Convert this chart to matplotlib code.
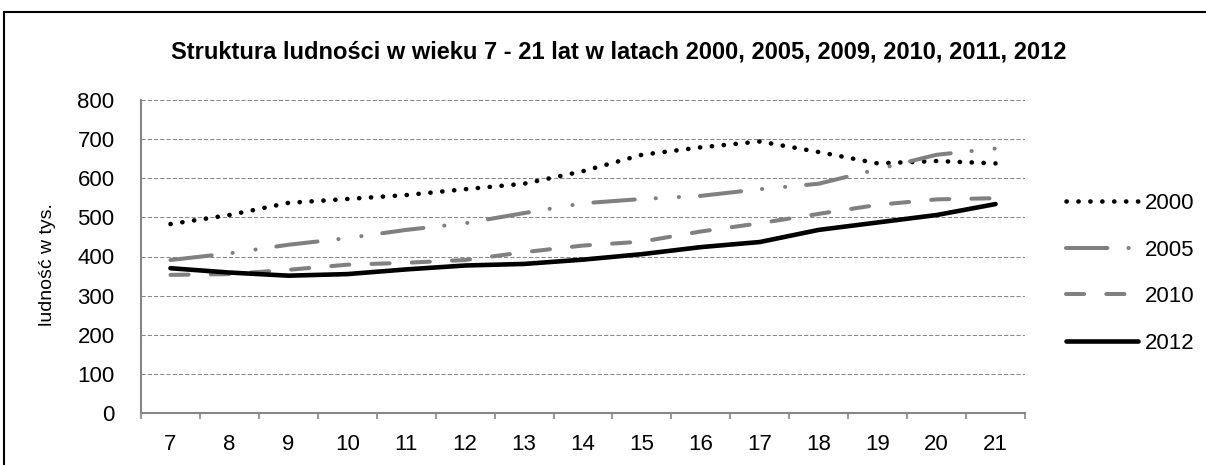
import numpy as np
import matplotlib.pyplot as plt
from matplotlib.patches import Rectangle

plt.rcParams['font.family'] = ['Liberation Sans', 'DejaVu Sans']

# data (ludność w tys.)
wiek = [7, 8, 9, 10, 11, 12, 13, 14, 15, 16, 17, 18, 19, 20, 21]
y2000 = [483, 506, 537, 547, 557, 572, 586, 618, 660, 679, 694, 667, 638, 644, 638]
y2005 = [391, 408, 430, 447, 468, 485, 511, 536, 547, 555, 572, 586, 623, 660, 676]
y2010 = [353, 355, 366, 379, 384, 391, 411, 428, 438, 464, 485, 509, 532, 546, 549]
y2012 = [370, 359, 351, 355, 367, 377, 381, 392, 406, 424, 437, 468, 487, 506, 534]
y_ticks = [0, 100, 200, 300, 400, 500, 600, 700, 800]

W, H = 1206, 465
fig = plt.figure(figsize=(W / 100, H / 100), dpi=100)
ax = fig.add_axes([141 / W, (H - 413) / H, (1025 - 141) / W, (413 - 100) / H])

x = np.arange(len(wiek))
gray = '#808080'
lw = 2.9

l1, = ax.plot(x, y2000, color='black', lw=3.3, linestyle=(0, (0.05, 2.55)),
              dash_capstyle='round', label='2000')
l2, = ax.plot(x, y2005, color=gray, lw=lw,
              linestyle=(0, (10.3, 5.2, 0.05, 5.7, 0.05, 5.2)),
              dash_capstyle='round', label='2005')
l3, = ax.plot(x, y2010, color=gray, lw=lw, linestyle=(0, (4.5, 5.5)),
              dash_capstyle='round', label='2010')
l4, = ax.plot(x, y2012, color='black', lw=3.3, solid_capstyle='round', label='2012')

ax.set_xlim(-0.5, len(wiek) - 0.5)
ax.set_ylim(0, 800)
ax.set_yticks(y_ticks)
ax.set_xticks(x)
ax.set_xticklabels([str(w) for w in wiek])
ax.set_xticks(np.arange(len(wiek) + 1) - 0.5, minor=True)
ax.tick_params(axis='x', which='major', length=0, pad=15, labelsize=16)
ax.tick_params(axis='x', which='minor', length=4.5, width=1.2, color='#868686')
ax.tick_params(axis='y', length=0, pad=19, labelsize=16)

ax.grid(axis='y', color='#888888', lw=0.75, linestyle=(0, (4, 2)))
ax.set_axisbelow(True)
for s in ['top', 'right']:
    ax.spines[s].set_visible(False)
for s in ['left', 'bottom']:
    ax.spines[s].set_color('#868686')
    ax.spines[s].set_linewidth(1.5)

fig.text(47 / W, 1 - 265 / H, 'ludność w tys.', rotation=90, ha='center', va='center', fontsize=14)
fig.text(619 / W, 1 - 52 / H, 'Struktura ludności w wieku 7 - 21 lat w latach 2000, 2005, 2009, 2010, 2011, 2012',
         ha='center', va='center', fontsize=17, fontweight='bold')

fig.legend(handles=[l1, l2, l3, l4], loc='upper left', bbox_to_anchor=(1066 / W, 1 - 193 / H),
           frameon=False, fontsize=16, handlelength=3.25, handletextpad=0.28,
           labelspacing=1.15, borderpad=0, borderaxespad=0)

fig.patches.append(Rectangle((4 / W, -0.1), 1.2, 1 - 12 / H + 0.1, transform=fig.transFigure,
                             fill=False, edgecolor='black', lw=1.5))

fig.savefig('out.png', dpi=100)
